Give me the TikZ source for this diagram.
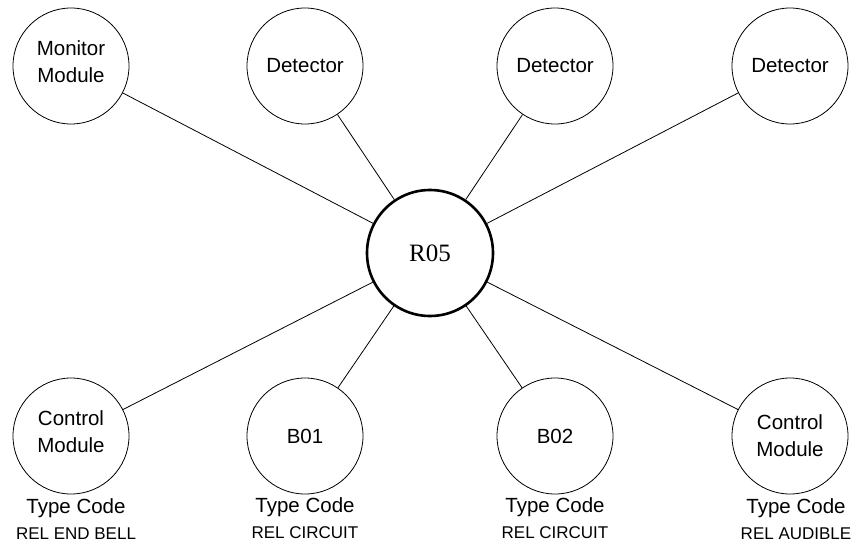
\documentclass[tikz,border=0pt]{standalone}
\usepackage{fontspec}
\setmainfont{Liberation Sans}
\newfontfamily\hubfont{Liberation Serif}
\usetikzlibrary{positioning}
\tikzset{
device/.style={circle, draw, line width=0.8pt, minimum size=116pt, inner sep=0pt, align=center, fill=white, font=\fontsize{20.5}{27}\selectfont},
raised/.style={text depth=8pt},
hub/.style={circle, draw, line width=2.6pt, minimum size=126pt, inner sep=0pt, fill=white, font=\hubfont\fontsize{25}{30}\selectfont},
type_label/.style={inner sep=1pt, font=\fontsize{20.5}{24}\selectfont},
code_label/.style={inner sep=1pt, font=\fontsize{17}{20}\selectfont},
link/.style={line width=0.8pt}
}
\begin{document}
\begin{tikzpicture}[x=1pt, y=-1pt]
    \useasboundingbox (0,0) rectangle (860,546);
    \node[hub] (hub) at (430,253) {R05};
    \node[device, raised] (monitor) at (71,66) {Monitor\\Module};
    \node[device] (det_a) at (305,66) {Detector};
    \node[device] (det_b) at (555,66) {Detector};
    \node[device] (det_c) at (790,66) {Detector};
    \node[device, raised] (ctrl_a) at (71,436) {Control\\Module};
    \node[device] (bell_a) at (305,436) {B01};
    \node[device] (bell_b) at (555,436) {B02};
    \node[device] (ctrl_b) at (790,436) {Control\\Module};
    \node[type_label] (type_a) [below=3pt of ctrl_a, xshift=5pt] {Type Code};
    \node[code_label] (code_a) [below=8pt of type_a] {REL END BELL};
    \node[type_label] (type_b) [below=2pt of bell_a] {Type Code};
    \node[code_label] (code_b) [below=8pt of type_b] {REL CIRCUIT};
    \node[type_label] (type_c) [below=2pt of bell_b] {Type Code};
    \node[code_label] (code_c) [below=8pt of type_c] {REL CIRCUIT};
    \node[type_label] (type_d) [below=3pt of ctrl_b, xshift=6pt] {Type Code};
    \node[code_label] (code_d) [below=8pt of type_d] {REL AUDIBLE};
    \draw[link] (hub) -- (monitor);
    \draw[link] (hub) -- (det_a);
    \draw[link] (hub) -- (det_b);
    \draw[link] (hub) -- (det_c);
    \draw[link] (hub) -- (ctrl_a);
    \draw[link] (hub) -- (bell_a);
    \draw[link] (hub) -- (bell_b);
    \draw[link] (hub) -- (ctrl_b);
\end{tikzpicture}
\end{document}
